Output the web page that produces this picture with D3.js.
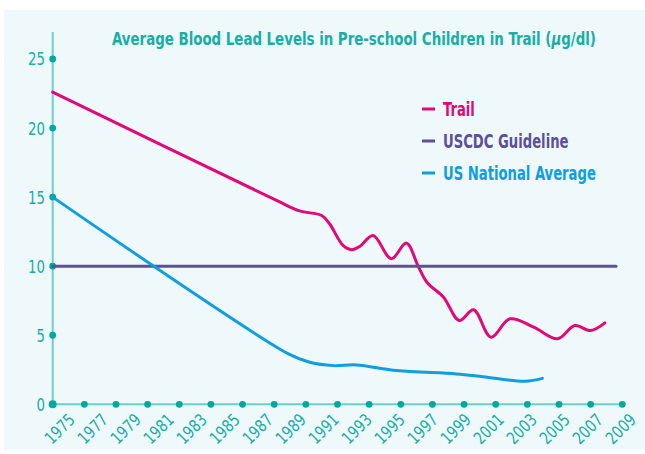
<!DOCTYPE html>
<html lang="en">
<head>
    <meta charset="UTF-8">
    <title>Average Blood Lead Levels in Pre-school Children in Trail</title>
    <script src="https://d3js.org/d3.v7.min.js"></script>
    <style>
        body { margin: 0; background: #fff; }
        text { font-family: "Liberation Sans Narrow", "DejaVu Sans Condensed", sans-serif; }
        .tick-label { fill: #17aea6; }
        .title { fill: #17aea6; font-size: 18px; font-weight: bold; }
        .legend text { font-size: 19px; font-weight: bold; }
    </style>
</head>
<body>
<script>
    // Trail (ug/dl)
    const trailYears = [1975, 1989.15, 1990.6, 1992.0, 1992.5, 1993.35, 1993.9, 1994.4, 1995.25, 1996.4, 1997.35,
        1998.1, 1998.65, 1999.7, 2000.7, 2001.6, 2002.7, 2003.9, 2005.4, 2006.9, 2008.0, 2009.0, 2009.9];
    const trailValues = [22.6, 14.76, 14.0, 13.67, 13.07, 11.5, 11.19, 11.43, 12.22, 10.54, 11.67,
        10.0, 8.84, 7.75, 6.07, 6.84, 4.86, 6.19, 5.58, 4.74, 5.7, 5.34, 5.9];

    // US national average
    const usYears = [1975, 1989.9, 1991.25, 1992.75, 1994.2, 1996.75, 2000.5, 2002.2, 2004.85, 2005.95];
    const usValues = [15.0, 3.65, 3.04, 2.8, 2.85, 2.44, 2.2, 2.0, 1.67, 1.88];

    // USCDC guideline
    const cdcYears = [1975, 2010.6];
    const cdcValues = [10, 10];

    const yTicks = [0, 5, 10, 15, 20, 25];
    const dotYears = d3.range(1975, 2012, 2);
    const yearLabels = d3.range(1975, 2010, 2).map(String);

    const series = [
        { name: 'Trail', color: '#e2087a', years: trailYears, values: trailValues },
        { name: 'USCDC Guideline', color: '#5c4f9c', years: cdcYears, values: cdcValues },
        { name: 'US National Average', color: '#109fde', years: usYears, values: usValues }
    ];

    const width = 645, height = 454;
    const axisColor = '#6dd0ca', dotColor = '#00a99e';

    const svg = d3.select('body').append('svg')
        .attr('width', width)
        .attr('height', height);

    svg.append('rect')
        .attr('x', 4).attr('y', 10)
        .attr('width', width - 4).attr('height', 440)
        .attr('fill', '#eff8fa');

    const x = d3.scaleLinear().domain([1975, 2011]).range([52.7, 622.3]);
    const y = d3.scaleLinear().domain([0, 25]).range([404.3, 59]);
    const xl = d3.scalePoint().domain(yearLabels).range([76, 637]);

    // axes
    svg.append('line')
        .attr('x1', x(1975)).attr('x2', x(1975))
        .attr('y1', 32).attr('y2', y(0))
        .attr('stroke', axisColor).attr('stroke-width', 2);
    svg.append('line')
        .attr('x1', x(1975)).attr('x2', x(2011))
        .attr('y1', y(0)).attr('y2', y(0))
        .attr('stroke', axisColor).attr('stroke-width', 2);

    svg.append('g').selectAll('circle')
        .data(dotYears)
        .join('circle')
        .attr('cx', d => x(d))
        .attr('cy', y(0))
        .attr('r', d => d === 1975 ? 4 : 3.4)
        .attr('fill', dotColor);

    svg.append('g').selectAll('circle')
        .data(yTicks.filter(d => d > 0))
        .join('circle')
        .attr('cx', x(1975))
        .attr('cy', d => y(d))
        .attr('r', 3.4)
        .attr('fill', dotColor);

    // narrow font is not there, so squeeze the text sideways
    svg.append('g').selectAll('text')
        .data(yTicks)
        .join('text')
        .attr('class', 'tick-label')
        .attr('font-size', 18)
        .attr('text-anchor', 'end')
        .attr('transform', d => `translate(45,${y(d)}) scale(0.82,1)`)
        .attr('dy', '0.36em')
        .text(d => d);

    svg.append('g').selectAll('text')
        .data(yearLabels)
        .join('text')
        .attr('class', 'tick-label')
        .attr('font-size', 17)
        .attr('text-anchor', 'end')
        .attr('transform', d => `translate(${xl(d)},421) rotate(-45) scale(0.88,1)`)
        .text(d => d);

    // lines
    const line = d3.line()
        .x(d => x(d[0]))
        .y(d => y(d[1]))
        .curve(d3.curveCatmullRom.alpha(0.5));

    svg.append('g').selectAll('path')
        .data(series)
        .join('path')
        .attr('d', s => line(d3.zip(s.years, s.values)))
        .attr('fill', 'none')
        .attr('stroke', s => s.color)
        .attr('stroke-width', 3)
        .attr('stroke-linecap', 'round');

    // title
    const title = svg.append('text')
        .attr('class', 'title');
    title.append('tspan').text('Average Blood Lead Levels in Pre-school Children in Trail (');
    title.append('tspan').attr('font-style', 'italic').text('\u03bc');
    title.append('tspan').text('g/dl)');
    const tw = title.node().getComputedTextLength();
    title.attr('transform', `translate(112,45) scale(${484 / tw},1)`);

    // legend
    const legend = svg.append('g').attr('class', 'legend');
    const item = legend.selectAll('g')
        .data(series)
        .join('g')
        .attr('transform', (d, i) => `translate(422,${109 + i * 32})`);
    item.append('line')
        .attr('x1', 0).attr('x2', 13)
        .attr('stroke', d => d.color)
        .attr('stroke-width', 3);
    const labels = item.append('text')
        .attr('dy', '0.36em')
        .attr('fill', d => d.color)
        .text(d => d.name);
    const lw = labels.nodes()[2].getComputedTextLength();
    labels.attr('transform', `translate(21,0) scale(${153 / lw},1)`);
</script>
</body>
</html>
